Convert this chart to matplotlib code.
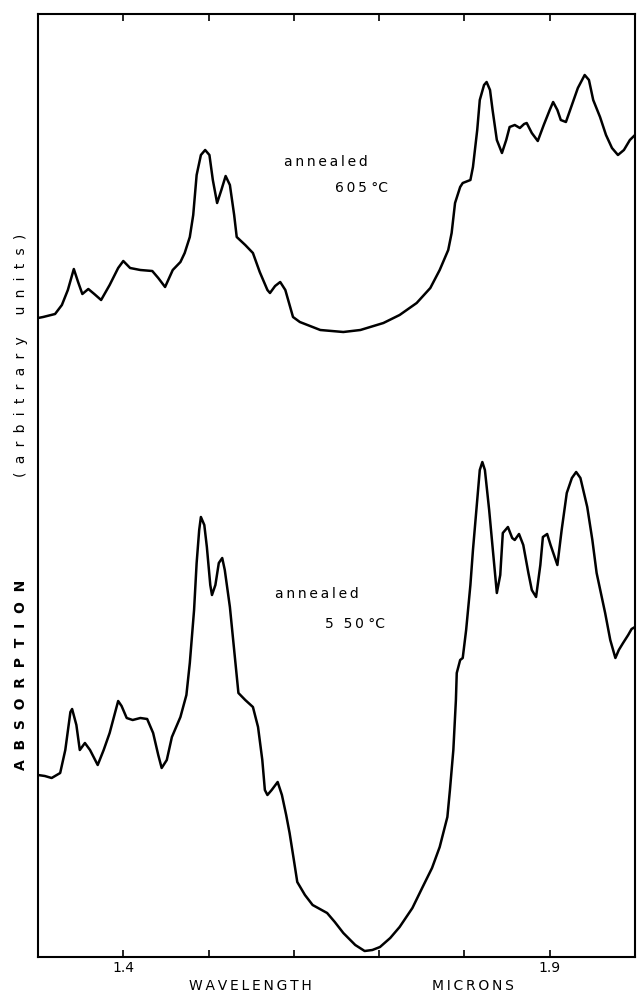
import matplotlib
matplotlib.use("Agg")
import matplotlib.pyplot as plt

# wavelength (microns) and absorption (arbitrary units)
wl_605 = [1.300, 1.306, 1.320, 1.328, 1.335, 1.342, 1.347, 1.352, 1.359, 1.366,
          1.374, 1.384, 1.394, 1.400, 1.408, 1.420, 1.434, 1.441, 1.449, 1.458,
          1.467, 1.472, 1.478, 1.482, 1.486, 1.491, 1.496, 1.501, 1.505, 1.510,
          1.515, 1.520, 1.525, 1.530, 1.533, 1.543, 1.552, 1.560, 1.569, 1.572,
          1.578, 1.584, 1.590, 1.595, 1.599, 1.607, 1.631, 1.658, 1.678, 1.705,
          1.724, 1.744, 1.760, 1.771, 1.781, 1.785, 1.789, 1.795, 1.798, 1.807,
          1.810, 1.815, 1.818, 1.823, 1.826, 1.830, 1.833, 1.838, 1.844, 1.849,
          1.853, 1.859, 1.865, 1.870, 1.873, 1.879, 1.886, 1.893, 1.900, 1.904,
          1.909, 1.913, 1.919, 1.926, 1.933, 1.941, 1.946, 1.951, 1.959, 1.966,
          1.973, 1.980, 1.987, 1.994, 2.000]
ab_605 = [639, 640, 643, 652, 667, 688, 675, 663, 668, 663,
          657, 672, 689, 696, 689, 687, 686, 679, 670, 687,
          695, 704, 720, 742, 782, 802, 807, 802, 777, 754,
          767, 781, 772, 742, 720, 712, 704, 685, 667, 664,
          671, 675, 667, 652, 640, 635, 627, 625, 627, 634,
          642, 654, 669, 687, 707, 724, 754, 770, 774, 777,
          790, 827, 857, 872, 875, 867, 847, 817, 804, 817,
          830, 832, 829, 833, 834, 824, 816, 832, 847, 855,
          847, 837, 835, 852, 869, 882, 877, 857, 840, 822,
          809, 802, 807, 817, 822]

wl_550 = [1.300, 1.308, 1.316, 1.326, 1.332, 1.338, 1.340, 1.345, 1.349, 1.355,
          1.361, 1.370, 1.377, 1.384, 1.394, 1.398, 1.404, 1.411, 1.420, 1.428,
          1.431, 1.435, 1.441, 1.445, 1.451, 1.457, 1.467, 1.474, 1.478, 1.483,
          1.486, 1.489, 1.491, 1.495, 1.498, 1.502, 1.504, 1.508, 1.512, 1.516,
          1.519, 1.525, 1.530, 1.535, 1.543, 1.552, 1.558, 1.563, 1.566, 1.569,
          1.574, 1.581, 1.586, 1.591, 1.595, 1.600, 1.604, 1.613, 1.622, 1.639,
          1.648, 1.658, 1.672, 1.683, 1.692, 1.701, 1.713, 1.724, 1.739, 1.751,
          1.762, 1.771, 1.780, 1.783, 1.787, 1.790, 1.791, 1.795, 1.798, 1.802,
          1.807, 1.810, 1.815, 1.818, 1.821, 1.824, 1.829, 1.833, 1.838, 1.842,
          1.845, 1.851, 1.856, 1.859, 1.864, 1.869, 1.875, 1.879, 1.884, 1.889,
          1.892, 1.897, 1.901, 1.909, 1.914, 1.920, 1.926, 1.931, 1.936, 1.944,
          1.950, 1.955, 1.965, 1.971, 1.977, 1.981, 1.986, 1.992, 1.996, 2.000]
ab_550 = [182, 181, 179, 184, 207, 245, 248, 232, 207, 214,
          207, 192, 207, 224, 256, 251, 239, 237, 239, 238,
          232, 224, 202, 189, 197, 220, 240, 262, 294, 347,
          394, 427, 440, 432, 410, 372, 362, 372, 394, 399,
          387, 350, 307, 264, 257, 250, 230, 197, 167, 162,
          167, 175, 162, 142, 124, 97, 75, 62, 52, 44,
          35, 24, 12, 6, 7, 10, 19, 30, 49, 70,
          89, 110, 140, 167, 207, 257, 284, 297, 299, 327,
          372, 407, 457, 487, 495, 487, 447, 410, 364, 382,
          424, 430, 419, 417, 423, 412, 384, 367, 360, 392,
          420, 423, 412, 392, 427, 464, 479, 485, 479, 450,
          417, 384, 344, 317, 299, 307, 314, 322, 328, 330]

xticks = [1.4, 1.5, 1.6, 1.7, 1.8, 1.9]
xticklabels = ["1.4", "", "", "", "", "1.9"]

fig = plt.figure(figsize=(6.39, 9.96), dpi=100)
ax = fig.add_axes([38 / 639, (996 - 957) / 996, (635 - 38) / 639, (957 - 14) / 996])
ax.plot(wl_605, ab_605, color="black", lw=1.8, solid_joinstyle="round")
ax.plot(wl_550, ab_550, color="black", lw=1.8, solid_joinstyle="round")
ax.set_xlim(1.3, 2.0)
ax.set_ylim(0, 943)
ax.set_xticks(xticks)
ax.set_xticklabels(xticklabels)
ax.set_yticks([])
ax.tick_params(axis="x", direction="in", top=True, length=5, width=1.2,
               labelsize=10, pad=3)
for s in ax.spines.values():
    s.set_linewidth(1.5)

def spaced(t):
    return "\u2009".join(t)

kw = dict(fontsize=10, color="black", family="DejaVu Sans")
fig.text(284 / 639, 1 - 162 / 996, spaced("annealed"), va="center", ha="left", **kw)
fig.text(335 / 639, 1 - 188 / 996, spaced("605") + " °C", va="center", ha="left", **kw)
fig.text(275 / 639, 1 - 594 / 996, spaced("annealed"), va="center", ha="left", **kw)
fig.text(325 / 639, 1 - 624 / 996, spaced("5 50") + " °C", va="center", ha="left", **kw)

fig.text(250 / 639, 1 - 986 / 996, spaced("WAVELENGTH"), ha="center", va="center", **kw)
fig.text(473 / 639, 1 - 986 / 996, spaced("MICRONS"), ha="center", va="center", **kw)
fig.text(21 / 639, 1 - 675 / 996, "  ".join("ABSORPTION"), rotation=90,
         ha="center", va="center", fontsize=10, fontweight="bold", family="DejaVu Sans")
fig.text(21 / 639, 1 - 355 / 996, spaced(spaced("(arbitrary")) + "     " + spaced(spaced("units)")),
         rotation=90, ha="center", va="center", **kw)

fig.savefig("out.png", dpi=100)
